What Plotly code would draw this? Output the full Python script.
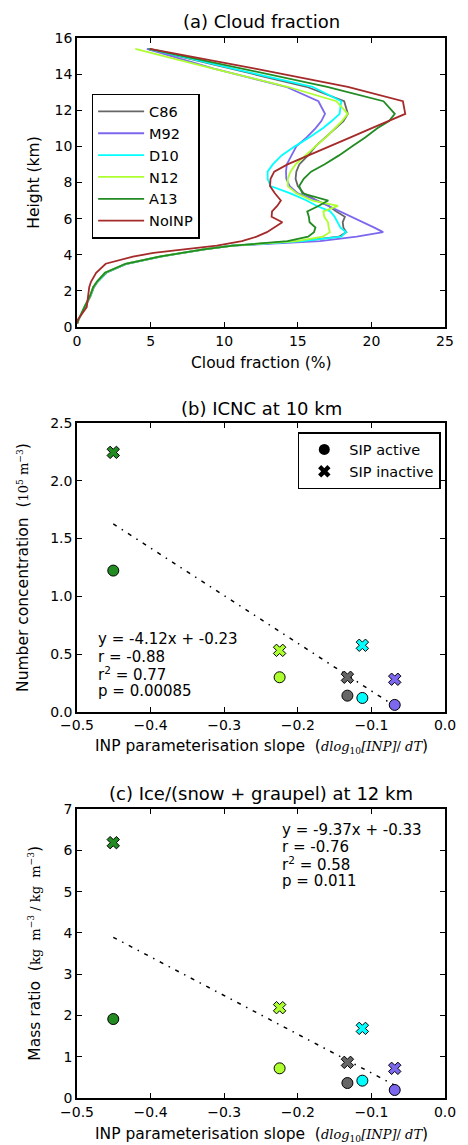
import plotly.graph_objects as go

# ---------------- data ----------------
models = ["C86", "M92", "D10", "N12", "A13", "NoINP"]
colors = ["#666666", "#7B68EE", "#00FFFF", "#ADFF2F", "#228B22", "#A52A2A"]

heights = [0.2, 0.4, 1.1, 1.7, 2.2, 2.5, 3.0, 3.5, 3.9, 4.1, 4.3, 4.5, 4.75, 5.0,
           5.25, 5.5, 5.8, 6.1, 6.4, 6.7, 7.0, 7.4, 7.8, 8.2, 8.6, 9.0, 9.5, 10.0,
           10.5, 11.0, 11.4, 11.8, 12.5, 13.3, 14.3, 15.4]

cf_C86 = [0.02, 0.1, 0.55, 0.92, 1.15, 1.4, 2.0, 3.4, 5.7, 7.1, 8.7, 10.5, 15.2, 17.8,
          18.3, 18.1, 18.05, 18.2, 17.6, 17.1, 16.3, 15.4, 15.0, 14.85, 14.9, 15.1, 15.7, 16.2,
          16.9, 17.6, 18.1, 18.4, 18.15, 15.6, 10.4, 4.8]
cf_M92 = [0.02, 0.1, 0.5, 0.88, 1.1, 1.35, 1.9, 3.3, 5.6, 7.0, 8.6, 10.6, 16.5, 19.0,
          20.8, 20.2, 19.4, 18.6, 17.9, 17.1, 16.3, 15.0, 14.45, 14.22, 14.2, 14.25, 14.6, 14.9,
          15.6, 16.2, 16.6, 16.85, 16.4, 14.2, 9.3, 4.74]
cf_D10 = [0.02, 0.1, 0.5, 0.9, 1.12, 1.38, 1.95, 3.35, 5.65, 7.05, 8.6, 10.5, 15.3, 17.95,
          18.28, 17.9, 17.7, 17.5, 17.2, 16.3, 15.6, 14.5, 13.15, 12.95, 12.95, 13.3, 13.9, 14.8,
          15.8, 16.7, 17.3, 17.84, 17.95, 16.0, 10.6, 4.9]
cf_N12 = [0.02, 0.1, 0.5, 0.88, 1.1, 1.35, 1.9, 3.3, 5.6, 7.0, 8.6, 10.6, 14.9, 16.7,
          17.18, 17.1, 17.05, 16.8, 16.74, 17.73, 16.0, 14.9, 14.32, 14.32, 14.5, 14.85, 15.5, 16.2,
          16.9, 17.5, 18.0, 18.39, 17.62, 14.3, 9.25, 3.96]
cf_A13 = [0.02, 0.1, 0.5, 0.88, 1.1, 1.35, 1.9, 3.3, 5.6, 7.0, 8.6, 10.6, 14.3, 15.7,
          16.1, 16.2, 15.8, 15.75, 15.64, 16.4, 17.07, 15.31, 15.1, 15.4, 15.9, 16.8, 17.8, 18.7,
          19.6, 20.4, 21.2, 21.59, 20.82, 17.0, 11.2, 4.9]
cf_NoINP = [0.02, 0.05, 0.66, 0.75, 0.83, 0.95, 1.3, 1.95, 3.8, 5.2, 7.2, 9.5, 11.2, 12.2,
            12.9, 13.4, 13.95, 13.22, 13.25, 13.6, 13.85, 13.44, 13.11, 13.15, 13.4, 14.3, 15.76, 17.17,
            18.58, 19.99, 21.1, 22.3, 22.14, 18.4, 12.1, 4.96]
cloud_fraction = [cf_C86, cf_M92, cf_D10, cf_N12, cf_A13, cf_NoINP]

# scatter panels (models C86, M92, D10, N12, A13)
slopes = [-0.1326, -0.0683, -0.1123, -0.2247, -0.4507]
icnc_active = [0.141, 0.061, 0.121, 0.300, 1.223]
icnc_inactive = [0.300, 0.283, 0.577, 0.533, 2.246]
ratio_active = [0.363, 0.194, 0.420, 0.719, 1.913]
ratio_inactive = [0.864, 0.719, 1.687, 2.188, 6.185]

fit_b = [-4.12, -0.23]
fit_c = [-9.37, -0.33]
stats_b = ["y = -4.12x + -0.23", "r = -0.88", "r<sup>2</sup> = 0.77", "p = 0.00085"]
stats_c = ["y = -9.37x + -0.33", "r = -0.76", "r<sup>2</sup> = 0.58", "p = 0.011"]

# ---------------- figure ----------------
fig = go.Figure()

for name, col, vals in zip(models, colors, cloud_fraction):
    fig.add_trace(go.Scatter(x=vals, y=heights, mode="lines", name=name,
                             line=dict(color=col, width=1.8),
                             xaxis="x", yaxis="y", legend="legend"))

sx_min, sx_max = min(slopes), max(slopes)
for (fit, act, inact, xa, ya) in [(fit_b, icnc_active, icnc_inactive, "x2", "y2"),
                                   (fit_c, ratio_active, ratio_inactive, "x3", "y3")]:
    fig.add_trace(go.Scatter(x=[sx_min, sx_max],
                             y=[fit[0] * sx_min + fit[1], fit[0] * sx_max + fit[1]],
                             mode="lines", line=dict(color="black", width=1.5,
                                                     dash="4px,6px,1.5px,6px"),
                             showlegend=False, xaxis=xa, yaxis=ya))
    for i in range(len(slopes)):
        fig.add_trace(go.Scatter(x=[slopes[i]], y=[act[i]], mode="markers",
                                 marker=dict(symbol="circle", size=11, color=colors[i],
                                             line=dict(color="black", width=1)),
                                 showlegend=False, xaxis=xa, yaxis=ya))
        fig.add_trace(go.Scatter(x=[slopes[i]], y=[inact[i]], mode="markers",
                                 marker=dict(symbol="x", size=11, color=colors[i],
                                             line=dict(color="black", width=1)),
                                 showlegend=False, xaxis=xa, yaxis=ya))

fig.add_trace(go.Scatter(x=[None], y=[None], mode="markers", name="SIP active",
                         marker=dict(symbol="circle", size=11, color="black"),
                         xaxis="x2", yaxis="y2", legend="legend2"))
fig.add_trace(go.Scatter(x=[None], y=[None], mode="markers", name="SIP inactive",
                         marker=dict(symbol="x", size=11, color="black"),
                         xaxis="x2", yaxis="y2", legend="legend2"))

axc = dict(showline=True, linecolor="black", linewidth=1.5, mirror="ticks",
           ticks="inside", ticklen=5, tickwidth=1, tickcolor="black",
           showgrid=False, zeroline=False, tickfont=dict(size=14, color="black"))

fig.update_layout(
    width=468, height=1145,
    margin=dict(l=77, r=13, t=38, b=47),
    paper_bgcolor="white", plot_bgcolor="white",
    font=dict(family="DejaVu Sans", color="black"),
    xaxis=dict(axc, domain=[0, 1], anchor="y", range=[0, 25], dtick=5, tick0=0),
    yaxis=dict(axc, domain=[0.7274, 1.0], anchor="x", range=[0, 16], dtick=2, tick0=0),
    xaxis2=dict(axc, domain=[0, 1], anchor="y2", range=[-0.5, 0], dtick=0.1, tick0=0,
                tickformat=".1f"),
    yaxis2=dict(axc, domain=[0.3642, 0.6368], anchor="x2", range=[0, 2.5], dtick=0.5,
                tick0=0, tickformat=".1f"),
    xaxis3=dict(axc, domain=[0, 1], anchor="y3", range=[-0.5, 0], dtick=0.1, tick0=0,
                tickformat=".1f"),
    yaxis3=dict(axc, domain=[0, 0.2726], anchor="x3", range=[0, 7], dtick=1, tick0=0),
    legend=dict(x=0.0397, y=0.9472, xanchor="left", yanchor="top",
                bgcolor="white", bordercolor="black", borderwidth=1.5,
                font=dict(size=14.5), itemwidth=46),
    legend2=dict(x=0.6, y=0.6283, xanchor="left", yanchor="top",
                 bgcolor="white", bordercolor="black", borderwidth=1.5,
                 font=dict(size=14.5), itemwidth=40),
)

MATH = "font-family:'DejaVu Serif';font-size:13px"
xlab_slope = ("INP parameterisation slope  (<span style=\"" + MATH + "\"><i>dlog</i>"
              "<sub>10</sub><i>[INP]</i>/ <i>dT</i></span>)")

ann = []
def A(text, x, y, size=15.5, angle=0, xanchor="center", yanchor="middle"):
    ann.append(dict(text=text, x=x, y=y, xref="paper", yref="paper", showarrow=False,
                    textangle=angle, xanchor=xanchor, yanchor=yanchor,
                    font=dict(size=size, color="black")))

A("(a) Cloud fraction", 0.5, 1.0151, size=18)
A("(b) ICNC at 10 km", 0.5, 0.6509, size=18)
A("(c) Ice/(snow + graupel) at 12 km", 0.5, 0.2868, size=18)
A("Cloud fraction (%)", 0.5, 0.6934)
A(xlab_slope, 0.5, 0.3320)
A(xlab_slope, 0.5, -0.0345)
A("Height (km)", -0.1164, 0.8637, angle=-90)
A("Number concentration  (<span style=\"" + MATH + "\">10<sup>5</sup> m<sup>−3</sup></span>)",
  -0.1455, 0.5005, angle=-90)
A("Mass ratio  (<span style=\"" + MATH + "\">kg  m<sup>−3</sup> / kg  m<sup>−3</sup></span>)",
  -0.1164, 0.1363, angle=-90)

for txt, yy in zip(stats_b, [0.4330, 0.4165, 0.4000, 0.3840]):
    A(txt, 0.0503, yy, size=15, xanchor="left")
for txt, yy in zip(stats_c, [0.2528, 0.2368, 0.2208, 0.2047]):
    A(txt, 0.5503, yy, size=15, xanchor="left")

fig.update_layout(annotations=ann)
fig.write_html("out.html")
